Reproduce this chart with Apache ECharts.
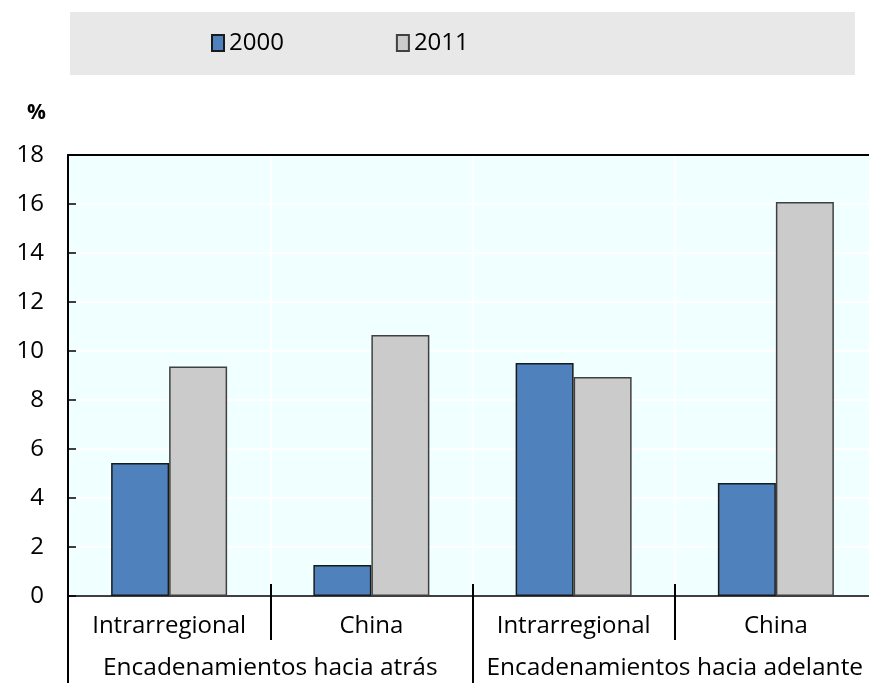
<!DOCTYPE html>
<html>
<head>
<meta charset="utf-8">
<script src="https://cdn.jsdelivr.net/npm/echarts@6/dist/echarts.min.js"></script>
<style>
  html, body { margin: 0; padding: 0; background: #fff; overflow: hidden; }
  /* plot area runs a little past the right edge of the picture, as in the original */
  #chart { width: 877px; height: 683px; }
</style>
</head>
<body>
<div id="chart"></div>
<script>
const subCategories = ["Intrarregional", "China", "Intrarregional", "China"];
const groups = ["Encadenamientos hacia atrás", "Encadenamientos hacia adelante"];
const values2000 = [5.43, 1.27, 9.51, 4.61];
const values2011 = [9.37, 10.65, 8.94, 16.08];
const yTicks = [0, 2, 4, 6, 8, 10, 12, 14, 16, 18];
const fontFam = "'Open Sans', 'Noto Sans', sans-serif";

// helper axis spanning the 4 categories as 0..4, used for separators
function sepAxis(extra) {
  return Object.assign({
    type: "value", min: 0, max: subCategories.length, position: "bottom",
    axisLine: { show: false },
    splitLine: { show: false },
    axisLabel: { show: false }
  }, extra);
}

const chart = echarts.init(document.getElementById("chart"));
chart.setOption({
  animation: false,
  textStyle: { fontFamily: fontFam },
  graphic: [
    { type: "rect", left: 70, top: 12, shape: { width: 785, height: 63 }, style: { fill: "#e8e8e8" }, z: -1 },
    { type: "text", left: 27, top: 103, style: { text: "%", font: "bold 21px " + fontFam, fill: "#000" } }
  ],
  legend: {
    top: 31,
    left: 211,
    padding: 0,
    itemGap: 112,
    itemWidth: 12,
    itemHeight: 16,
    icon: "rect",
    textStyle: { fontSize: 24, color: "#000" },
    data: ["2000", "2011"]
  },
  grid: {
    left: 68, top: 155, right: 0, bottom: 87,
    show: true, backgroundColor: "#f0ffff", borderWidth: 0
  },
  xAxis: [
    {
      type: "category", data: subCategories, position: "bottom",
      axisLine: { lineStyle: { color: "#000", width: 1.5 } },
      axisTick: { show: false },
      axisLabel: { fontSize: 24, color: "#000", margin: 18 },
      splitLine: { show: true, lineStyle: { color: "#ffffff", width: 2 } }
    },
    sepAxis({
      axisTick: { show: true, length: 44, customValues: [0, 1, 2, 3], lineStyle: { color: "#000", width: 2 } }
    }),
    sepAxis({
      axisTick: { show: true, inside: true, length: 12, customValues: [1, 2, 3], lineStyle: { color: "#000", width: 2 } }
    }),
    sepAxis({
      offset: 44,
      axisTick: { show: true, length: 43, customValues: [0, 2], lineStyle: { color: "#000", width: 2 } },
      axisLabel: {
        show: true, fontSize: 24.5, color: "#000", margin: 16, customValues: [1, 3],
        formatter: function (v) { return groups[(v - 1) / 2]; }
      }
    }),
    {
      type: "category", data: subCategories, position: "top",
      axisLine: { lineStyle: { color: "#000", width: 2 } },
      axisTick: { show: false },
      axisLabel: { show: false }
    }
  ],
  yAxis: {
    type: "value", min: yTicks[0], max: yTicks[yTicks.length - 1], interval: yTicks[1] - yTicks[0],
    axisLine: { show: true, lineStyle: { color: "#000", width: 2 } },
    axisTick: { show: true, inside: true, length: 8, lineStyle: { color: "#000", width: 1.5 } },
    axisLabel: { fontSize: 24, color: "#000", margin: 24 },
    splitLine: { show: true, lineStyle: { color: "#ffffff", width: 2 } }
  },
  series: [
    {
      name: "2000", type: "bar", data: values2000, barWidth: 58, barGap: "0%",
      itemStyle: { color: "#4f81bd", borderColor: "#1a1a1a", borderWidth: 1.5 }
    },
    {
      name: "2011", type: "bar", data: values2011, barWidth: 58, barGap: "0%",
      itemStyle: { color: "#cbcbcb", borderColor: "#404040", borderWidth: 1.5 }
    }
  ]
});
</script>
</body>
</html>
